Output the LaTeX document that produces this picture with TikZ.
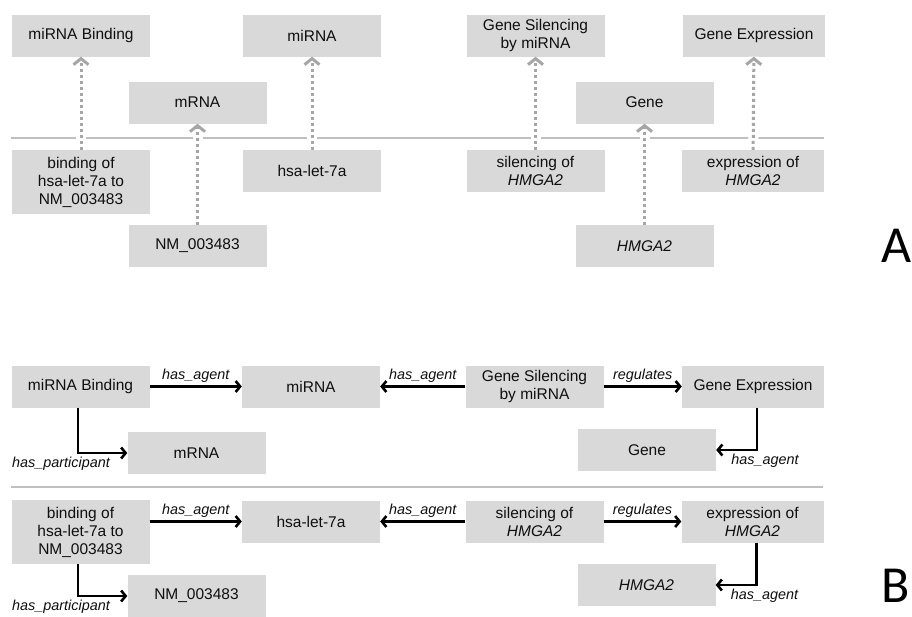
\documentclass[tikz,border=0pt]{standalone}
\usepackage{fontspec}
\setmainfont{Liberation Sans}
\newfontfamily\panelfont{Carlito}
\usetikzlibrary{arrows.meta}
\definecolor{boxgray}{RGB}{217,217,217}
\definecolor{dotgray}{RGB}{166,166,166}
\definecolor{rulegray}{RGB}{191,191,191}
\definecolor{txtgray}{RGB}{15,15,15}
\tikzset{
  term/.style={fill=boxgray, text=txtgray, inner sep=0pt, minimum width=138pt, minimum height=42pt,
    align=center, font=\fontsize{15.5}{18}\selectfont},
  wide/.style={minimum width=142pt},
  tall/.style={minimum height=64pt},
  inst/.style={draw=dotgray, line width=3pt, dash pattern=on 3pt off 3pt,
    -{Straight Barb[length=6pt,width=15pt,line width=3pt]},
    preaction={draw=white, line width=10pt, solid, -}},
  rel/.style={draw=black, line width=2.6pt, -{Straight Barb[length=4.5pt,width=11pt,line width=2.6pt]}},
  lbl/.style={font=\fontsize{14.4}{16}\selectfont\itshape, text=txtgray, inner sep=3pt},
  panel/.style={font=\panelfont\fontsize{52}{56}\selectfont, inner sep=0pt, anchor=base west}
}
\begin{document}
\begin{tikzpicture}[x=1pt,y=-1pt]
    \useasboundingbox[fill=white] (0,0) rectangle (912,616);
    \draw[rulegray, line width=1.8pt] (11,138) -- (824,138);
    \draw[rulegray, line width=1.8pt] (11,487) -- (823,487);
    \node[term] (abind) at (81,35.5) {miRNA Binding};
    \node[term] (amirna) at (312,35.5) {miRNA};
    \node[term] (amrna) at (197.5,102.5) {mRNA};
    \node[term] (asil) at (535.5,35.5) {Gene Silencing\\by miRNA};
    \node[term,wide] (aexpr) at (754,35.5) {Gene Expression};
    \node[term] (agene) at (644.5,102.5) {Gene};
    \node[term,tall] (abindof) at (81,182) {binding of\\hsa-let-7a to\\NM\_003483};
    \node[term] (ahsa) at (312,171) {hsa-let-7a};
    \node[term] (anm) at (197.5,246) {NM\_003483};
    \node[term] (asilof) at (535.5,171) {silencing of\\\textit{HMGA2}};
    \node[term,wide] (aexprof) at (753,171) {expression of\\\textit{HMGA2}};
    \node[term] (ahmga) at (644.5,246) {\textit{HMGA2}};
    \foreach \from/\to in {abindof/abind, anm/amrna, ahsa/amirna, asilof/asil, ahmga/agene, aexprof/aexpr}
        \draw[inst] (\from) to (\to);
    \node[panel] (pa) at (881,262) {A};
    \node[term] (bbind) at (80.5,386.5) {miRNA Binding};
    \node[term] (bmirna) at (311,386.5) {miRNA};
    \node[term] (bmrna) at (196.5,453) {mRNA};
    \node[term] (bsil) at (534.5,386.5) {Gene Silencing\\by miRNA};
    \node[term,wide] (bexpr) at (753,386.5) {Gene Expression};
    \node[term] (bgene) at (647,450) {Gene};
    \node[term,tall] (bbindof) at (80.5,532) {binding of\\hsa-let-7a to\\NM\_003483};
    \node[term] (bhsa) at (311,521.5) {hsa-let-7a};
    \node[term] (bnm) at (196.5,596) {NM\_003483};
    \node[term] (bsilof) at (534.5,521.5) {silencing of\\\textit{HMGA2}};
    \node[term,wide] (bexprof) at (752.5,521.5) {expression of\\\textit{HMGA2}};
    \node[term] (bhmga) at (646.5,585) {\textit{HMGA2}};
    \draw[rel] (bbind.east) -- node[lbl,above] {has\_agent} (bmirna.west);
    \draw[rel] (bsil.west) -- node[lbl,above] {has\_agent} (bmirna.east);
    \draw[rel] (bsil.east) -- node[lbl,above] {regulates} (bexpr.west);
    \draw[rel] ([xshift=-2.5pt]bbind.south) |- node[lbl,pos=0.5,below,xshift=-17pt] {has\_participant} (bmrna.west);
    \draw[rel] ([xshift=4pt]bexpr.south) |- node[lbl,pos=0.5,below,xshift=8pt] {has\_agent} (bgene.east);
    \draw[rel] (bbindof.east |- bhsa) -- node[lbl,above] {has\_agent} (bhsa.west);
    \draw[rel] (bsilof.west) -- node[lbl,above] {has\_agent} (bhsa.east);
    \draw[rel] (bsilof.east) -- node[lbl,above] {regulates} (bexprof.west);
    \draw[rel] ([xshift=-2.5pt]bbindof.south) |- node[lbl,pos=0.5,below,xshift=-17pt] {has\_participant} (bnm.west);
    \draw[rel] ([xshift=4pt]bexprof.south) |- node[lbl,pos=0.5,below,xshift=8pt] {has\_agent} (bhmga.east);
    \node[panel] (pb) at (881,602) {B};
\end{tikzpicture}
\end{document}
